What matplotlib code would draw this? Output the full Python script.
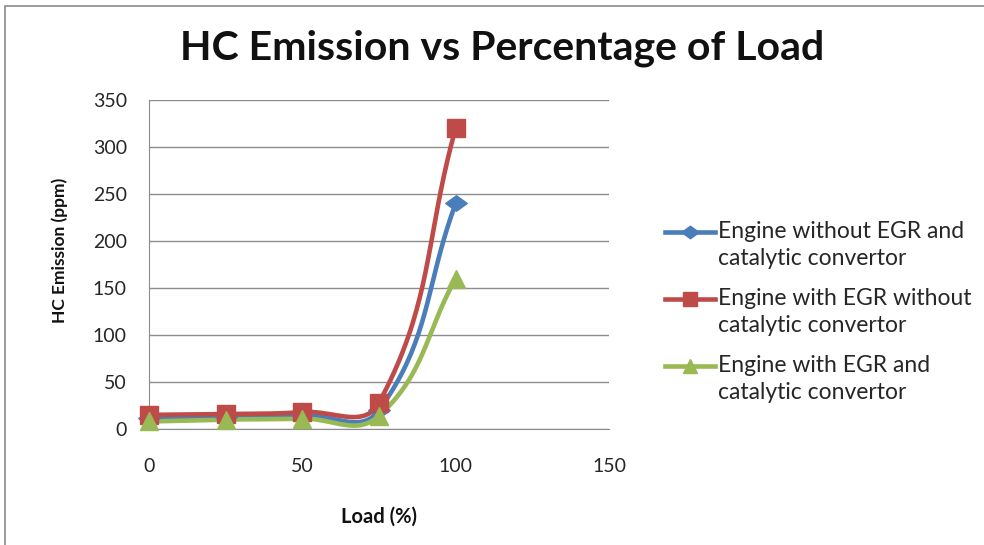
import numpy as np
import matplotlib
matplotlib.use("Agg")
import matplotlib.pyplot as plt
from matplotlib.lines import Line2D
from matplotlib.patches import Rectangle
from matplotlib.path import Path

plt.rcParams['font.family'] = ['Lato', 'DejaVu Sans']

load = [0, 25, 50, 75, 100]
no_egr_no_cat = [12, 13, 15, 20, 240]
egr_no_cat = [15, 16, 18, 28, 320]
egr_with_cat = [8, 10, 11, 14, 160]

labels = ["Engine without EGR and\ncatalytic convertor",
          "Engine with EGR without\ncatalytic convertor",
          "Engine with EGR and\ncatalytic convertor"]
colors = ["#4A7EBB", "#BE4B48", "#98B954"]

# a slightly flattened diamond
diamond = Path([(-1, 0), (0, 0.72), (1, 0), (0, -0.72), (-1, 0)],
               [Path.MOVETO, Path.LINETO, Path.LINETO, Path.LINETO,
                Path.CLOSEPOLY])
markers = [diamond, "s", "^"]
msizes = [15.5, 13.5, 13.5]

W, H = 984, 545
AX_L, AX_R, AX_T, AX_B = 149, 609, 100, 429
XMAX, YMAX = 150, 350
SX = (AX_R - AX_L) / XMAX  # pixels per x unit
SY = (AX_B - AX_T) / YMAX  # pixels per y unit


def smooth(x, y, k=0.4, n=40):
    """Bezier smoothing through every point, with control arms sized by
    the adjacent segment length (computed in screen pixels)."""
    p = np.column_stack([np.asarray(x, float) * SX, np.asarray(y, float) * SY])
    m = len(p)
    tang = np.zeros_like(p)
    for i in range(m):
        a = p[max(i - 1, 0)]
        b = p[min(i + 1, m - 1)]
        d = b - a
        tang[i] = d / np.linalg.norm(d)
    t = np.linspace(0, 1, n)[:, None]
    out = []
    for i in range(m - 1):
        p1, p2 = p[i], p[i + 1]
        L = np.linalg.norm(p2 - p1)
        c1 = p1 + tang[i] * L * k
        c2 = p2 - tang[i + 1] * L * k
        b = (1 - t) ** 3 * p1 + 3 * (1 - t) ** 2 * t * c1 \
            + 3 * (1 - t) * t ** 2 * c2 + t ** 3 * p2
        out.append(b)
    out = np.vstack(out)
    return out[:, 0] / SX, out[:, 1] / SY


fig = plt.figure(figsize=(9.84, 5.45), dpi=100)
ax = fig.add_axes([AX_L / W, 1 - AX_B / H, (AX_R - AX_L) / W, (AX_B - AX_T) / H])

series = [no_egr_no_cat, egr_no_cat, egr_with_cat]
for vals, c, m, ms in zip(series, colors, markers, msizes):
    sx, sy = smooth(load, vals)
    ax.plot(sx, sy, color=c, lw=3.3, solid_capstyle='round', zorder=3,
            clip_on=False)
    ax.plot(load, vals, linestyle='none', marker=m, markersize=ms,
            color=c, markeredgecolor=c, zorder=4, clip_on=False)

ax.set_xlim(0, XMAX)
ax.set_ylim(0, YMAX)
ax.set_xticks([0, 50, 100, 150])
ax.set_yticks(np.arange(0, 351, 50))
ax.grid(axis='y', color='#8C8C8C', lw=1)
ax.set_axisbelow(True)
for s in ['top', 'right']:
    ax.spines[s].set_visible(False)
for s in ['left', 'bottom']:
    ax.spines[s].set_color('#8C8C8C')
ax.tick_params(axis='both', labelcolor='#262626', labelsize=14, length=0)
ax.tick_params(axis='x', pad=21)
ax.tick_params(axis='y', pad=16)
ax.set_xlabel("Load (%)", fontsize=14.5, fontweight='bold', labelpad=23,
              color='#111111')
ax.set_ylabel("HC Emission (ppm)", fontsize=12.5, fontweight='bold',
              color='#111111', va='center')
ax.yaxis.set_label_coords((60 - AX_L) / (AX_R - AX_L),
                          (AX_B - 250) / (AX_B - AX_T))

fig.text(502 / W, 1 - 48 / H, "HC Emission vs Percentage of Load",
         ha='center', va='center', fontsize=29.5, fontweight='bold',
         color='#111111')

# Legend: key line sits beside the first line of each two-line label
leg_x0, leg_x1, leg_tx = 665, 715, 718
leg_y0, leg_step, line_h = 232, 67, 26
for i, (lab, c, m, ms) in enumerate(zip(labels, colors, markers, msizes)):
    yf = 1 - (leg_y0 + i * leg_step) / H
    fig.add_artist(Line2D([leg_x0 / W, leg_x1 / W], [yf, yf],
                          transform=fig.transFigure, color=c, lw=3.3))
    fig.add_artist(Line2D([(leg_x0 + leg_x1) / 2 / W], [yf],
                          transform=fig.transFigure, color=c, marker=m,
                          markersize=ms - 3, linestyle='none'))
    yc = 1 - (leg_y0 + i * leg_step + line_h / 2) / H
    fig.text(leg_tx / W, yc, lab, ha='left', va='center', fontsize=16.5,
             color='#262626', linespacing=1.33)

fig.patches.append(Rectangle((5 / W, -0.05), 1.2, 1 - 6 / H + 0.05,
                             transform=fig.transFigure, fill=False,
                             edgecolor='#8C8C8C', lw=1.2))

fig.savefig("out.png", dpi=100)
